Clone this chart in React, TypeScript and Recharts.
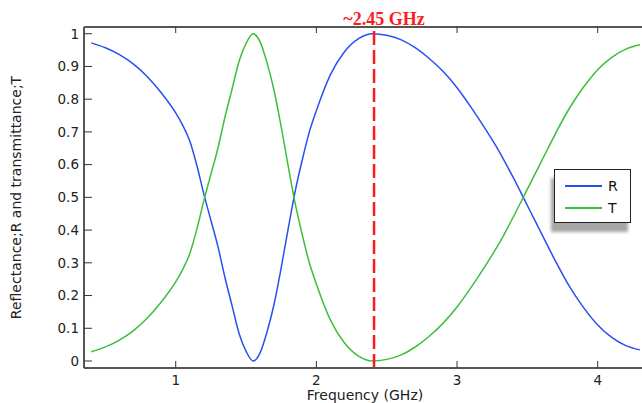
import { LineChart, Line, XAxis, YAxis, ReferenceLine } from "recharts";

// frequency in GHz
const freq = [
	0.4, 0.5, 0.6, 0.7, 0.8, 0.9, 1.0, 1.05, 1.1, 1.15, 1.2, 1.25, 1.3, 1.35, 1.4, 1.45, 1.5, 1.55, 1.6, 1.65, 1.7,
	1.75, 1.8, 1.85, 1.9, 1.95, 2.0, 2.1, 2.2, 2.3, 2.4, 2.5, 2.6, 2.7, 2.8, 2.9, 3.0, 3.1, 3.2, 3.3, 3.4, 3.5, 3.6,
	3.7, 3.8, 3.9, 4.0, 4.1, 4.2, 4.3,
];

const reflectance = [
	0.972, 0.957, 0.936, 0.907, 0.868, 0.818, 0.758, 0.72, 0.672, 0.598, 0.51, 0.43, 0.35, 0.255, 0.17, 0.085, 0.03,
	0.0, 0.025, 0.09, 0.175, 0.285, 0.405, 0.52, 0.615, 0.7, 0.765, 0.875, 0.945, 0.985, 1.0, 0.995, 0.982, 0.958,
	0.925, 0.885, 0.835, 0.775, 0.71, 0.64, 0.56, 0.475, 0.39, 0.305, 0.227, 0.163, 0.11, 0.072, 0.047, 0.034,
];

const transmittance = [
	0.028, 0.043, 0.064, 0.093, 0.132, 0.182, 0.242, 0.28, 0.328, 0.402, 0.49, 0.57, 0.65, 0.745, 0.83, 0.915, 0.97,
	1.0, 0.975, 0.91, 0.825, 0.715, 0.595, 0.48, 0.385, 0.3, 0.235, 0.125, 0.055, 0.015, 0.0, 0.005, 0.018, 0.042,
	0.075, 0.115, 0.165, 0.225, 0.29, 0.36, 0.44, 0.525, 0.61, 0.695, 0.773, 0.837, 0.89, 0.928, 0.953, 0.966,
];

const xTicks = [1, 2, 3, 4];
const yTicks = [0, 0.1, 0.2, 0.3, 0.4, 0.5, 0.6, 0.7, 0.8, 0.9, 1];
const markerFreq = 2.41;
const markerText = "~2.45 GHz";

const data = freq.map((f, i) => ({ f, R: reflectance[i], T: transmittance[i] }));

const AXIS = "#555555";
const tickStyle = { fill: "#222", fontSize: 13.5, fontFamily: "DejaVu Sans" };

const renderMarkerLabel = (props: any) => {
	const vb = props.viewBox;
	return (
		<text
			x={vb.x + 10}
			y={vb.y - 2}
			textAnchor="middle"
			fill="#ff1a1a"
			fontSize={18}
			fontWeight="bold"
			fontFamily="Liberation Serif, Times New Roman, serif"
		>
			{markerText}
		</text>
	);
};

const renderLegend = () => {
	return (
		<div
			style={{
				position: "absolute",
				left: 554,
				top: 169,
				width: 75,
				height: 52,
				border: "1px solid #222",
				background: "#fff",
				boxShadow: "-3px 9px 3px rgba(0,0,0,0.35)",
				fontFamily: "DejaVu Sans",
				fontSize: 14,
				color: "#111",
			}}
		>
			<div style={{ position: "absolute", left: 10, top: 15, width: 37, height: 2, background: "#2a4ff0" }} />
			<div style={{ position: "absolute", left: 53, top: 7, lineHeight: "18px" }}>R</div>
			<div style={{ position: "absolute", left: 10, top: 37, width: 37, height: 2, background: "#3cbf3c" }} />
			<div style={{ position: "absolute", left: 53, top: 29, lineHeight: "18px" }}>T</div>
		</div>
	);
};

const App = () => {
	return (
		<div style={{ position: "absolute", left: 0, top: 0, width: 642, height: 403, background: "#fff" }}>
			<LineChart width={642} height={403} data={data} margin={{ top: 0, right: 0, bottom: 0, left: 0 }}>
				<XAxis
					dataKey="f"
					type="number"
					domain={[0.348, 4.315]}
					allowDataOverflow
					ticks={xTicks}
					height={35}
					tickSize={-7}
					tickMargin={14}
					tick={tickStyle}
					axisLine={{ stroke: AXIS, strokeWidth: 2 }}
					tickLine={{ stroke: "#333" }}
					label={{
						value: "Frequency (GHz)",
						position: "insideBottom",
						offset: 3,
						dx: 2,
						fill: "#222",
						fontSize: 14,
						fontFamily: "DejaVu Sans",
					}}
				/>
				<XAxis
					xAxisId="top"
					orientation="top"
					dataKey="f"
					type="number"
					domain={[0.348, 4.315]}
					allowDataOverflow
					ticks={xTicks}
					height={27}
					tickSize={-6}
					tickFormatter={() => ""}
					axisLine={{ stroke: AXIS, strokeWidth: 2 }}
					tickLine={{ stroke: "#333" }}
				/>
				<YAxis
					type="number"
					domain={[-0.0214, 1.0205]}
					allowDataOverflow
					ticks={yTicks}
					width={84}
					tickSize={-8}
					tickMargin={13}
					tick={tickStyle}
					axisLine={{ stroke: AXIS, strokeWidth: 2 }}
					tickLine={{ stroke: "#333" }}
					label={{
						value: "Reflectance;R and transmittance;T",
						angle: -90,
						position: "center",
						dx: -26,
						fill: "#222",
						fontSize: 14,
						fontFamily: "DejaVu Sans",
					}}
				/>
				<YAxis
					yAxisId="right"
					orientation="right"
					type="number"
					domain={[-0.0214, 1.0205]}
					allowDataOverflow
					ticks={yTicks}
					width={0}
					tickSize={-6}
					tickFormatter={() => ""}
					axisLine={{ stroke: AXIS, strokeWidth: 2 }}
					tickLine={{ stroke: "#333" }}
				/>
				<Line
					type="monotone"
					dataKey="R"
					stroke="#2a4ff0"
					strokeWidth={1.5}
					dot={false}
					isAnimationActive={false}
				/>
				<Line
					type="monotone"
					dataKey="T"
					stroke="#3cbf3c"
					strokeWidth={1.5}
					dot={false}
					isAnimationActive={false}
				/>
				<ReferenceLine
					x={markerFreq}
					stroke="#ff1a1a"
					strokeWidth={2.5}
					strokeDasharray="14 5"
					label={renderMarkerLabel}
				/>
			</LineChart>
			{renderLegend()}
		</div>
	);
};

export default App;
